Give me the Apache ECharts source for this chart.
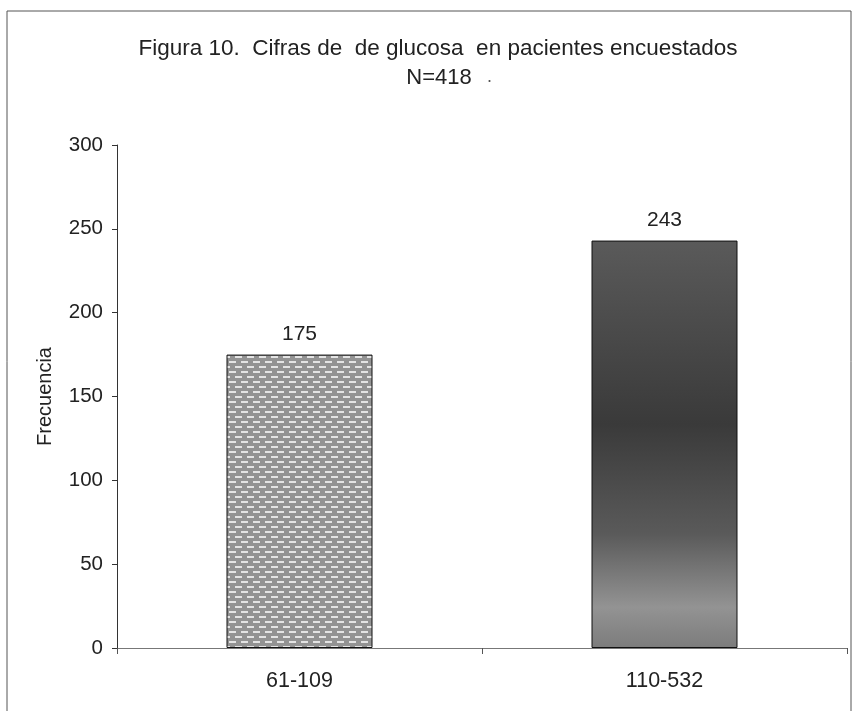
<!DOCTYPE html>
<html>
<head>
<meta charset="utf-8">
<script src="https://cdn.jsdelivr.net/npm/echarts@6/dist/echarts.min.js"></script>
<style>html,body{margin:0;padding:0;background:#fff}#c{width:854px;height:711px}</style>
</head>
<body>
<div id="c"></div>
<script>
const categories = ['61-109', '110-532'];
const frecuencia = [175, 243];
const yTicks = [0, 50, 100, 150, 200, 250, 300];
const titleLine1 = 'Figura 10.  Cifras de  de glucosa  en pacientes encuestados';
const titleLine2 = 'N=418';
const yAxisName = 'Frecuencia';

function makePattern() {
  const c = document.createElement('canvas');
  c.width = 12; c.height = 10;
  const g = c.getContext('2d');
  g.fillStyle = '#939393';
  g.fillRect(0, 0, 12, 10);
  g.fillStyle = '#e4e4e4';
  g.fillRect(1, 1, 7, 2);
  g.fillRect(7, 6, 5, 2);
  g.fillRect(0, 6, 2, 2);
  return c;
}

const chart = echarts.init(document.getElementById('c'), null, {renderer: 'canvas'});
const font = 'Liberation Sans, Arial, sans-serif';
chart.setOption({
  animation: false,
  backgroundColor: '#ffffff',
  title: [
    {text: titleLine1, left: 433, top: 32, textAlign: 'center',
     textStyle: {fontFamily: font, fontSize: 22.5, fontWeight: 'normal', color: '#222'}},
    {text: titleLine2, left: 434, top: 62, textAlign: 'center',
     textStyle: {fontFamily: font, fontSize: 22, fontWeight: 'normal', color: '#222'}}
  ],
  graphic: [
    {type: 'rect', shape: {x: 7, y: 11, width: 844, height: 720},
     style: {fill: 'none', stroke: '#555', lineWidth: 1}, silent: true, z: -1},
    {type: 'text', left: 487, top: 68, style: {text: '.', font: '18px ' + font, fill: '#555'}}
  ],
  grid: {left: 117, right: 7, top: 145, bottom: 63},
  xAxis: {
    type: 'category', data: categories,
    axisLine: {lineStyle: {color: '#777', width: 1}},
    axisTick: {show: true, length: 6, alignWithLabel: false, lineStyle: {color: '#555'}},
    axisLabel: {fontFamily: font, fontSize: 21.5, color: '#222', margin: 22}
  },
  yAxis: {
    type: 'value', min: yTicks[0], max: yTicks[yTicks.length - 1], interval: 50,
    name: yAxisName, nameLocation: 'middle', nameGap: 62, nameRotate: 90,
    nameTextStyle: {fontFamily: font, fontSize: 20, color: '#222'},
    axisLine: {show: true, lineStyle: {color: '#333', width: 1}},
    axisTick: {show: true, inside: false, length: 5, lineStyle: {color: '#333'}},
    axisLabel: {fontFamily: font, fontSize: 20.5, color: '#222', margin: 14},
    splitLine: {show: false}
  },
  series: [{
    type: 'bar', barWidth: '40%',
    data: [
      {value: frecuencia[0], itemStyle: {color: {image: makePattern(), repeat: 'repeat'}}},
      {value: frecuencia[1], itemStyle: {color: new echarts.graphic.LinearGradient(0, 0, 0, 1, [
        {offset: 0, color: '#5a5a5a'}, {offset: 0.45, color: '#3a3a3a'},
        {offset: 0.72, color: '#5a5a5a'}, {offset: 0.9, color: '#939393'}, {offset: 1, color: '#7c7c7c'}])}}
    ],
    itemStyle: {borderColor: '#111', borderWidth: 1},
    label: {show: true, position: 'top', distance: 10, fontFamily: font, fontSize: 21, color: '#222'}
  }]
});
</script>
</body>
</html>
